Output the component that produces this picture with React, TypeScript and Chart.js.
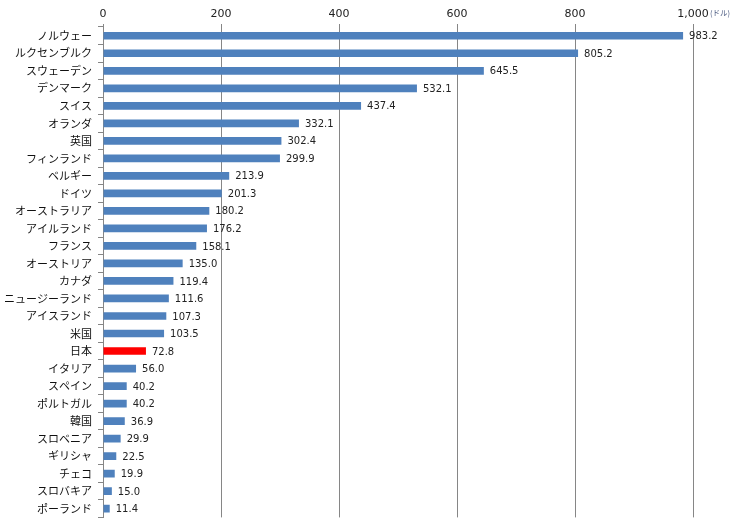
import { useEffect, useRef } from "react";
import { Chart, ChartConfiguration, Plugin, registerables } from "chart.js";

Chart.register(...registerables);

const countries = [
  "ノルウェー", "ルクセンブルク", "スウェーデン", "デンマーク", "スイス", "オランダ", "英国",
  "フィンランド", "ベルギー", "ドイツ", "オーストラリア", "アイルランド", "フランス", "オーストリア",
  "カナダ", "ニュージーランド", "アイスランド", "米国", "日本", "イタリア", "スペイン",
  "ポルトガル", "韓国", "スロベニア", "ギリシャ", "チェコ", "スロバキア", "ポーランド",
];

const amounts = [
  983.2, 805.2, 645.5, 532.1, 437.4, 332.1, 302.4, 299.9, 213.9, 201.3, 180.2, 176.2, 158.1, 135.0,
  119.4, 111.6, 107.3, 103.5, 72.8, 56.0, 40.2, 40.2, 36.9, 29.9, 22.5, 19.9, 15.0, 11.4,
];

const highlight = "日本";
const unitLabel = "(ドル)";

const NUM_FONT = "'DejaVu Sans', Verdana, sans-serif";
const JP_FONT = "'Noto Sans CJK JP', sans-serif";

// value labels at the end of each bar + the unit next to the last tick
const labelsPlugin: Plugin<"bar"> = {
  id: "barLabels",
  afterDatasetsDraw(chart) {
    const ctx = chart.ctx;
    const meta = chart.getDatasetMeta(0);
    ctx.save();
    ctx.font = `10px ${NUM_FONT}`;
    ctx.fillStyle = "#222";
    ctx.textAlign = "left";
    ctx.textBaseline = "middle";
    meta.data.forEach((bar, i) => {
      const { x, y } = bar.getProps(["x", "y"], true);
      ctx.fillText(amounts[i].toFixed(1), x + 6, y + 1);
    });

    const xScale = chart.scales.x;
    const xEnd = xScale.getPixelForValue(1000);
    ctx.font = `7.5px ${JP_FONT}`;
    ctx.fillStyle = "#4a5a80";
    ctx.fillText(unitLabel, xEnd + 17, 13);
    ctx.restore();
  },
};

export default function App() {
  const canvasRef = useRef<HTMLCanvasElement>(null);
  const chartRef = useRef<Chart | null>(null);

  useEffect(() => {
    document.body.style.margin = "0";
    if (!canvasRef.current) return;
    const ctx = canvasRef.current.getContext("2d");
    if (!ctx) return;

    if (chartRef.current) {
      chartRef.current.destroy();
    }

    const config: ChartConfiguration<"bar"> = {
      type: "bar",
      data: {
        labels: countries,
        datasets: [{
          data: amounts,
          backgroundColor: countries.map((c) => (c === highlight ? "#ff0000" : "#4f81bd")),
          borderWidth: 0,
          barPercentage: 0.44,
          categoryPercentage: 1,
        }],
      },
      options: {
        indexAxis: "y",
        animation: false,
        responsive: false,
        layout: { padding: { left: 0, right: 37, top: 0, bottom: 10 } },
        plugins: {
          legend: { display: false },
          tooltip: { enabled: false },
        },
        scales: {
          x: {
            position: "top",
            min: 0,
            max: 1000,
            ticks: {
              stepSize: 200,
              color: "#222",
              font: { size: 11, family: NUM_FONT },
              padding: 3,
              maxRotation: 0,
            },
            grid: { color: "#868686", lineWidth: 1, tickLength: 3 },
            border: { display: false },
            afterFit(scale) {
              scale.height = 27;
            },
          },
          y: {
            offset: true,
            ticks: {
              color: "#111",
              font: { size: 11, family: JP_FONT },
              padding: 6,
              autoSkip: false,
            },
            grid: {
              drawOnChartArea: false,
              offset: true,
              tickLength: 5,
              color: "#868686",
            },
            border: { display: true, color: "#868686" },
            afterFit(scale) {
              scale.width = 103;
            },
          },
        },
      },
      plugins: [labelsPlugin],
    };

    chartRef.current = new Chart(ctx, config);

    return () => {
      if (chartRef.current) {
        chartRef.current.destroy();
      }
    };
  }, []);

  return (
    <div style={{ width: 730, height: 530, background: "#fff" }}>
      <canvas ref={canvasRef} width={730} height={530} />
    </div>
  );
}
